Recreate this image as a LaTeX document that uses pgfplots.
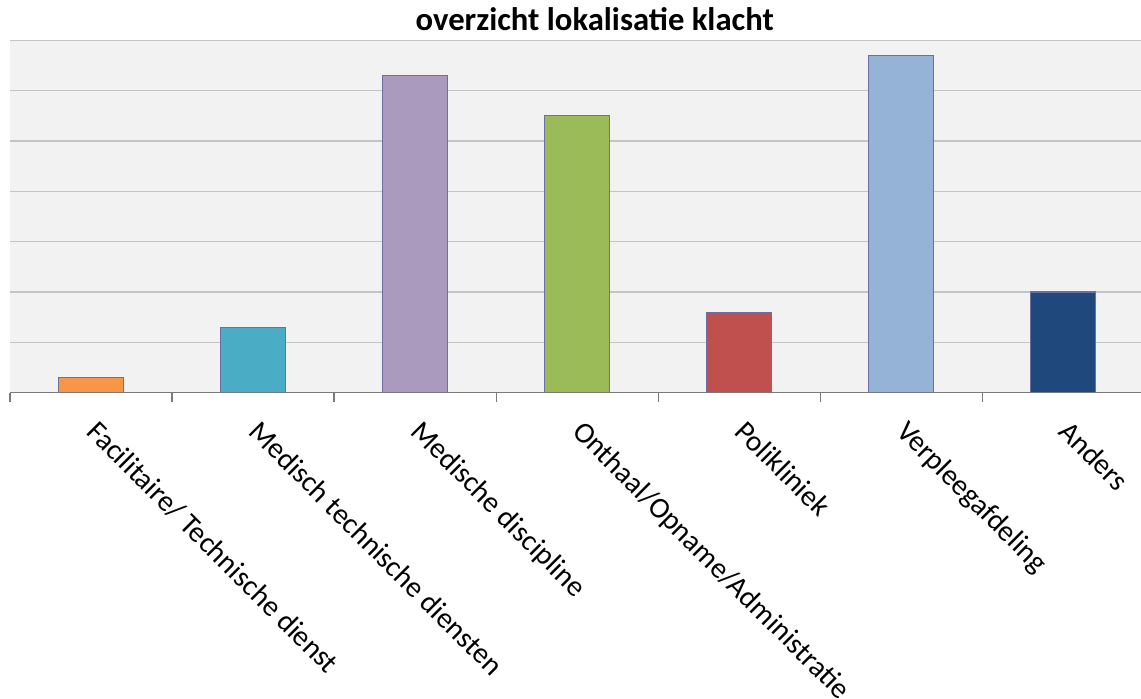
\documentclass[border=0pt]{standalone}
\usepackage{pgfplots}
\pgfplotsset{compat=1.18}
\usepackage{fontspec}
\setmainfont{Carlito}

\definecolor{plotbg}{HTML}{F2F2F2}
\definecolor{gridc}{HTML}{C4C4C4}
\definecolor{axisc}{HTML}{7A7A7A}
\definecolor{barline}{HTML}{6E6EA6}
\definecolor{cOrange}{HTML}{F79646}
\definecolor{cAqua}{HTML}{4BACC6}
\definecolor{cLavender}{HTML}{A99ABE}
\definecolor{cGreen}{HTML}{9BBB59}
\definecolor{cRed}{HTML}{C0504D}
\definecolor{cSky}{HTML}{95B3D7}
\definecolor{cNavy}{HTML}{1F497D}

\begin{document}
\begin{tikzpicture}
% overall page frame
\useasboundingbox (-7.5pt,-229.7pt) rectangle (848.25pt,294.5pt);
\begin{axis}[
  at={(0,0)}, anchor=south west,
  scale only axis,
  width=848.25pt, height=264.3pt,
  xmin=-0.5, xmax=6.48,
  ymin=0, ymax=70,
  clip=false,
  axis background/.style={fill=plotbg},
  axis line style={draw=none},
  ymajorgrids,
  grid style={draw=gridc, line width=0.9pt},
  ytick={0,10,...,70},
  yticklabels={},
  ytick style={draw=none},
  xtick={0,1,2,3,4,5,6},
  xticklabels={Facilitaire/ Technische dienst, Medisch technische diensten, Medische discipline, Onthaal/Opname/Administratie, Polikliniek, Verpleegafdeling, Anders},
  major x tick style={draw=none},
  minor xtick={-0.5,0.5,...,5.5},
  minor x tick style={draw=axisc, line width=0.9pt},
  minor tick length=6.75pt,
  tick align=outside,
  xtick pos=bottom,
  xticklabel style={xshift=6.5pt, yshift=-15pt, rotate=-45, anchor=north west,
    inner sep=0pt, font=\fontsize{22}{26}\selectfont},
  ybar, bar width=0.4, bar shift=0pt,
  every axis plot/.append style={draw=barline, line width=0.9pt},
]
\addplot[fill=cOrange]   coordinates {(0,3)};
\addplot[fill=cAqua]     coordinates {(1,13)};
\addplot[fill=cLavender] coordinates {(2,63)};
\addplot[fill=cGreen]    coordinates {(3,55)};
\addplot[fill=cRed]      coordinates {(4,16)};
\addplot[fill=cSky]      coordinates {(5,67)};
\addplot[fill=cNavy]     coordinates {(6,20)};
% baseline of the category axis
\draw[axisc, line width=1pt] (rel axis cs:0,0) -- (rel axis cs:1,0);
% chart title
\node[anchor=base, font=\bfseries\fontsize{24.5}{29}\selectfont]
  at (rel axis cs:0.517,1) [yshift=7pt] {overzicht lokalisatie klacht};
\end{axis}
\end{tikzpicture}
\end{document}
